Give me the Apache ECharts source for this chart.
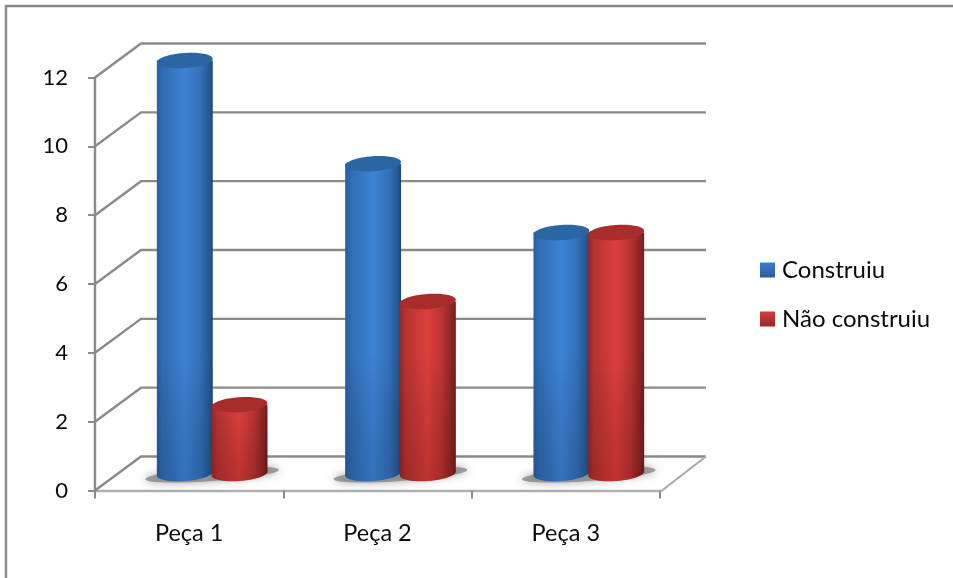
<!DOCTYPE html>
<html>
<head>
<meta charset="utf-8">
<style>html,body{margin:0;padding:0;background:#fff}#chart{width:953px;height:578px}</style>
<script src="https://cdn.jsdelivr.net/npm/echarts@6/dist/echarts.min.js"></script>
</head>
<body>
<div id="chart"></div>
<script>
const categories = ['Peça 1', 'Peça 2', 'Peça 3'];
const construiu = [12, 9, 7];
const naoConstruiu = [2, 5, 7];
const yTicks = [0, 2, 4, 6, 8, 10, 12];

// Oblique projection of the 3D box: the back wall sits this far from the front plane.
const DEPTH_X = 46;
const DEPTH_Y = -34;
const AXIS_GREY = '#8a8a8a';
const TEXT_COLOR = '#0a0a0a';
const FONT = 'Lato';
const TILT = 0.07;

const grad = (stops, x2, y2) => ({
  type: 'linear', x: 0, y: 0, x2, y2,
  colorStops: stops.map(c => ({ offset: c[0], color: c[1] }))
});

const blueBody = grad([[0, '#285f9c'], [0.1, '#2f6cb2'], [0.5, '#3e83d6'], [0.78, '#3270b8'], [0.93, '#275a96'], [1, '#1f4876']], 1, 0);
const redBody = grad([[0, '#94292a'], [0.1, '#b53331'], [0.5, '#dd3f3b'], [0.75, '#b93432'], [0.92, '#8c2625'], [1, '#701d1c']], 1, 0);

// Back-wall gridlines with their slanted returns to the value axis.
function renderWall(params, api) {
  const cs = params.coordSys;
  const y = api.coord([0, api.value(0)])[1];
  const x0 = cs.x;
  return {
    type: 'polyline',
    shape: { points: [[x0, y], [x0 + DEPTH_X, y + DEPTH_Y], [x0 + cs.width + DEPTH_X, y + DEPTH_Y]] },
    style: { fill: null, stroke: AXIS_GREY, lineWidth: 2.4 },
    silent: true
  };
}

// The floor's right edge.
function renderFloorEdge(params, api) {
  const cs = params.coordSys;
  const y = api.coord([0, api.value(0)])[1];
  const x = cs.x + cs.width;
  return {
    type: 'line',
    shape: { x1: x, y1: y + 1.5, x2: x + DEPTH_X, y2: y + DEPTH_Y },
    style: { stroke: '#a8a8a8', lineWidth: 2 },
    silent: true
  };
}

// Soft floor shadow under each pair of cylinders.
function renderShadow(params, api) {
  const base = api.coord([api.value(0), 0]);
  const cx = base[0] + DEPTH_X / 2;
  const cy = base[1] + DEPTH_Y / 2 + 1;
  return {
    type: 'ellipse',
    rotation: TILT, originX: cx, originY: cy,
    shape: { cx, cy, rx: 67, ry: 6.5 },
    style: { fill: 'rgba(125,125,125,0.7)', shadowBlur: 8, shadowColor: 'rgba(110,110,110,0.9)' },
    silent: true
  };
}

// Outline of the cylinder side: straight edges closed by the lower half of the tilted base.
function sidePoints(cx, yTop, yBase, rx, ry) {
  const pts = [[cx - rx, yTop], [cx + rx, yTop]];
  for (let i = 0; i <= 24; i++) {
    const a = Math.PI * i / 24;
    const px = rx * Math.cos(a);
    pts.push([cx + px, yBase + ry * Math.sin(a) - px * TILT]);
  }
  return pts;
}

function renderCylinder(side, body, cap, shade) {
  return function (params, api) {
    const cat = api.value(0);
    const base = api.coord([cat, 0]);
    const top = api.coord([cat, api.value(1)]);
    const barW = api.size([1, 0])[0] * 0.297;
    const rx = barW / 2;
    const ry = 7.5;
    const cx = base[0] + DEPTH_X / 2 + side * (barW / 2 - 0.6);
    const by = base[1] + DEPTH_Y / 2;
    const ty = top[1] + DEPTH_Y / 2;
    const fade = Math.min(120, by - ty);
    return {
      type: 'group',
      silent: true,
      children: [
        { type: 'polygon', shape: { points: sidePoints(cx, ty, by, rx, ry) }, style: { fill: body } },
        { type: 'polygon', shape: { points: sidePoints(cx, by - fade, by, rx, ry) },
          style: { fill: grad([[0, 'rgba(0,0,0,0)'], [1, shade]], 0, 1) } },
        { type: 'ellipse', rotation: TILT, originX: cx, originY: ty,
          shape: { cx, cy: ty, rx, ry }, style: { fill: cap } }
      ]
    };
  };
}

const catRows = categories.map((c, i) => [i]);
const customBase = { type: 'custom', coordinateSystem: 'cartesian2d', animation: false, clip: false, tooltip: { show: false } };

const option = {
  animation: false,
  backgroundColor: '#fff',
  textStyle: { fontFamily: FONT },
  graphic: [
    { type: 'polyline', silent: true, shape: { points: [[6, 578], [6, 6], [953, 6]] },
      style: { fill: null, stroke: '#8a8a8a', lineWidth: 2.4 } }
  ],
  grid: { left: 95, top: 77.5, width: 565, height: 413 },
  legend: {
    orient: 'vertical', left: 755, top: 253, itemWidth: 15, itemHeight: 15, itemGap: 25,
    icon: 'rect', selectedMode: false,
    textStyle: { fontSize: 24, color: TEXT_COLOR, fontFamily: FONT, padding: [0, 0, 0, 2] },
    data: [
      { name: 'Construiu', itemStyle: { color: grad([[0, '#3b7fd2'], [1, '#2a5c9c']], 0, 1) } },
      { name: 'Não construiu', itemStyle: { color: grad([[0, '#d33f3b'], [1, '#952826']], 0, 1) } }
    ]
  },
  xAxis: {
    type: 'category', data: categories, boundaryGap: true, offset: 1.5,
    axisLine: { show: true, lineStyle: { color: '#b0b0b0', width: 2.4 } },
    axisTick: { show: true, length: 8, alignWithLabel: false, lineStyle: { color: '#8a8a8a', width: 2 } },
    axisLabel: { fontSize: 23.5, color: TEXT_COLOR, margin: 29, fontFamily: FONT },
    splitLine: { show: false }
  },
  yAxis: {
    type: 'value', min: 0, max: 12, interval: 2,
    axisLine: { show: true, lineStyle: { color: '#8a8a8a', width: 2.4 } },
    axisTick: { show: true, length: 7, lineStyle: { color: '#8a8a8a', width: 2 } },
    axisLabel: { fontSize: 22, color: TEXT_COLOR, margin: 27, fontFamily: FONT, padding: [2, 0, 0, 0],
      formatter: v => yTicks.includes(v) ? String(v) : '' },
    splitLine: { show: false }
  },
  series: [
    Object.assign({}, customBase, { name: 'wall', data: yTicks.map(v => [v]), renderItem: renderWall, encode: { y: 0 }, z: 1 }),
    Object.assign({}, customBase, { name: 'floor', data: [[0]], renderItem: renderFloorEdge, encode: { y: 0 }, z: 1 }),
    Object.assign({}, customBase, { name: 'shadow', data: catRows, renderItem: renderShadow, encode: { x: 0 }, z: 2 }),
    Object.assign({}, customBase, {
      name: 'Construiu', z: 3,
      data: construiu.map((v, i) => [i, v]), encode: { x: 0, y: 1 },
      renderItem: renderCylinder(-1, blueBody, '#2b66a4', 'rgba(15,40,80,0.2)')
    }),
    Object.assign({}, customBase, {
      name: 'Não construiu', z: 4,
      data: naoConstruiu.map((v, i) => [i, v]), encode: { x: 0, y: 1 },
      renderItem: renderCylinder(1, redBody, '#a82c2a', 'rgba(70,0,0,0.2)')
    })
  ]
};

const chart = echarts.init(document.getElementById('chart'), null, { renderer: 'canvas' });
chart.setOption(option);
</script>
</body>
</html>
